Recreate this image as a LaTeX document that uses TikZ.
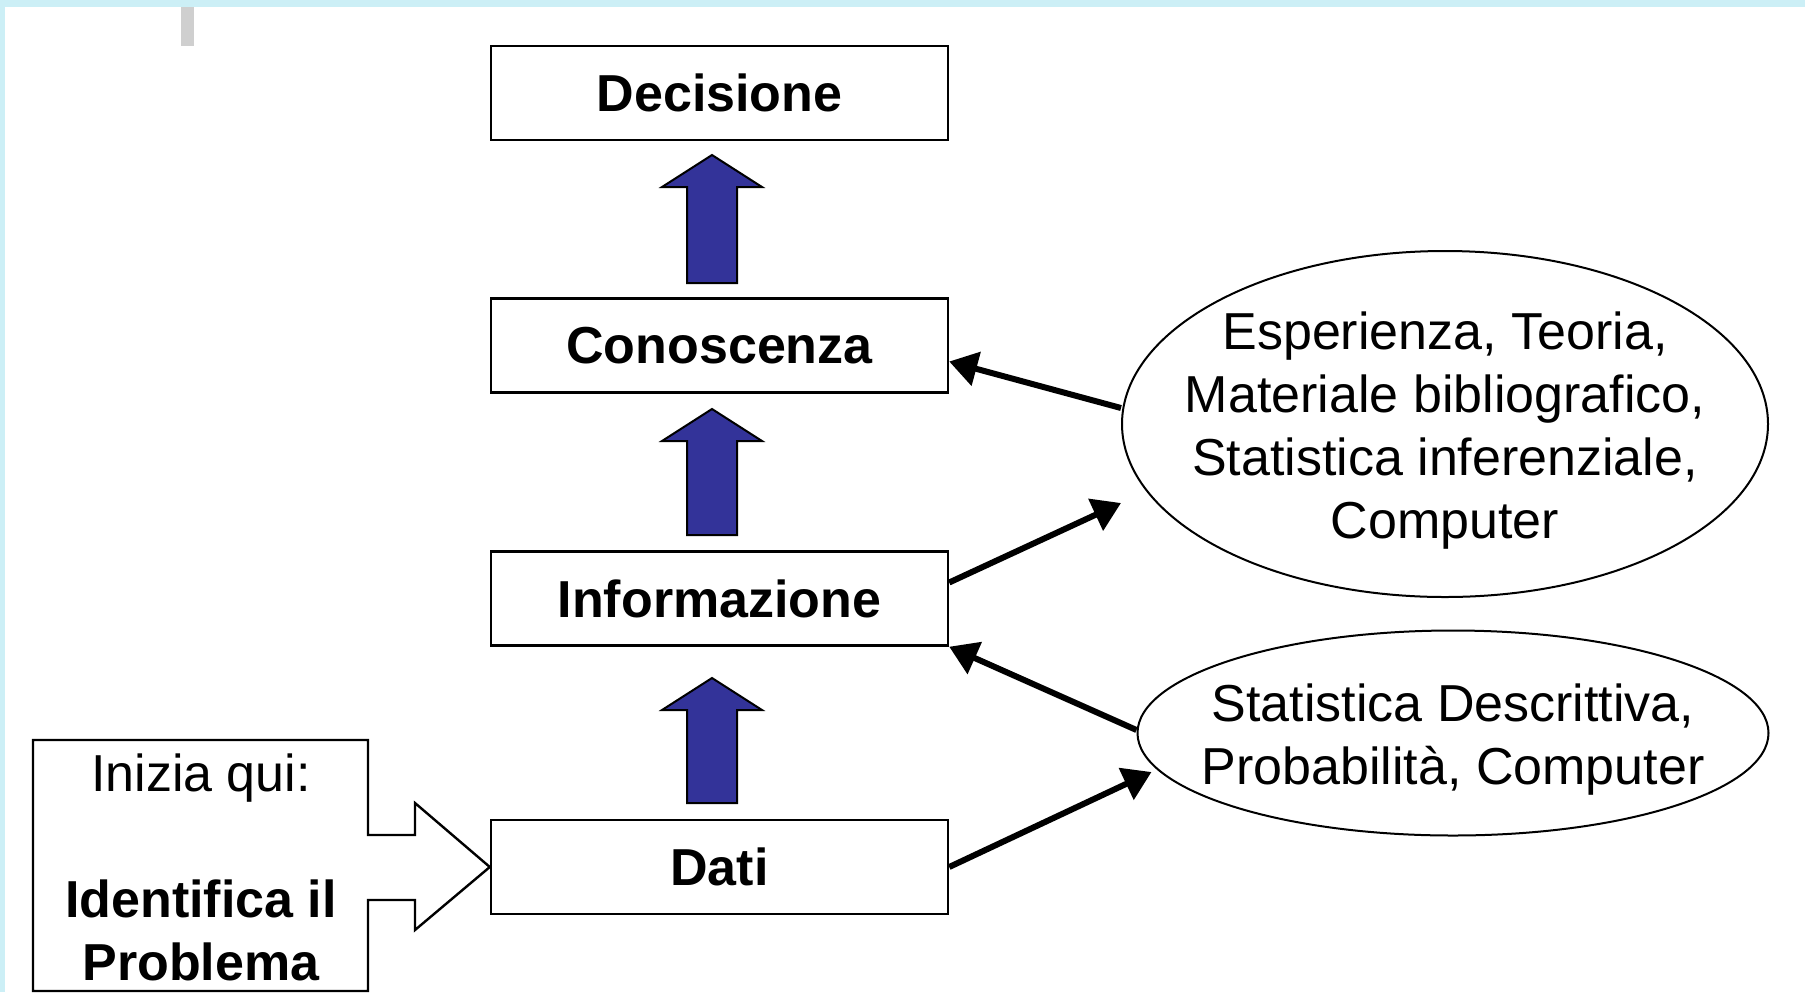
\documentclass[tikz,border=0pt]{standalone}
\usepackage{fontspec}
\setmainfont{Liberation Sans}
\usetikzlibrary{arrows.meta,shapes.geometric}

\definecolor{frameblue}{HTML}{CCEFF6}
\definecolor{arrowblue}{HTML}{333399}
\definecolor{tabgrey}{HTML}{CFCFCF}
\newcommand{\bigtext}{\fontsize{26pt}{31.5pt}\selectfont}

\tikzset{
  stepbox/.style={draw, line width=1.2pt, minimum width=228.5pt, minimum height=47pt, inner sep=0pt, font=\bigtext\bfseries},
  srcellipse/.style={ellipse, draw, line width=1pt, inner sep=0pt},
  srctext/.style={align=center, font=\bigtext},
  link/.style={line width=3pt, -{Triangle[length=14pt,width=17pt]}},
  uparrow/.style={draw, line width=1pt, fill=arrowblue},
}

\begin{document}
\begin{tikzpicture}[x=0.5pt,y=-0.5pt]
\useasboundingbox (0,0) rectangle (1805,992);

% frame
\fill[frameblue] (0,0) rectangle (1805,992);
\fill[white] (5,7) rectangle (1805,992);
\fill[tabgrey] (181,7) rectangle (194,46);

% steps
\node[stepbox] (dec) at (719.5,93) {Decisione};
\node[stepbox] (con) at (719.5,345.5) {Conoscenza};
\node[stepbox] (inf) at (719.5,598.5) {Informazione};
\node[stepbox] (dat) at (719.5,867) {Dati};

\foreach \t/\b in {155/283, 409/535, 678/803}
  \draw[uparrow] (687,\b) -- (687,\t+32) -- (662,\t+32) -- (712,\t) -- (762,\t+32) -- (737,\t+32) -- (737,\b) -- cycle;

% sources
\node[srcellipse, minimum width=323pt, minimum height=173pt] (ell1) at (1445,424) {};
\node[srctext, yshift=-3.5pt] (ell1txt) at (ell1) {Esperienza, Teoria,\\Materiale bibliografico,\\Statistica inferenziale,\\Computer};
\node[srcellipse, minimum width=315.5pt, minimum height=102.5pt] (ell2) at (1453,733) {};
\node[srctext, yshift=-3.5pt] (ell2txt) at (ell2) {Statistica Descrittiva,\\Probabilità, Computer};

\draw[link] ([yshift=8pt]ell1.west) -- ([yshift=-8pt]con.east);
\draw[link] ([yshift=8pt]inf.east) -- ([yshift=-39.5pt]ell1.west);
\draw[link] ([yshift=1.5pt]ell2.west) -- (inf.south east);
\draw[link] (dat.east) -- ([xshift=7.5pt,yshift=-19.5pt]ell2.west);

% start
\draw[line width=1.2pt] (33,740) -- (368,740) -- (368,835) -- (415,835) -- (415,803) -- (dat.west) -- (415,930) -- (415,900) -- (368,900) -- (368,991) -- (33,991) -- cycle;
\node[srctext] (start) at (201,778) {Inizia qui:};
\node[srctext, font=\bigtext\bfseries] (prob) at (201,930) {Identifica il\\Problema};
\end{tikzpicture}
\end{document}
